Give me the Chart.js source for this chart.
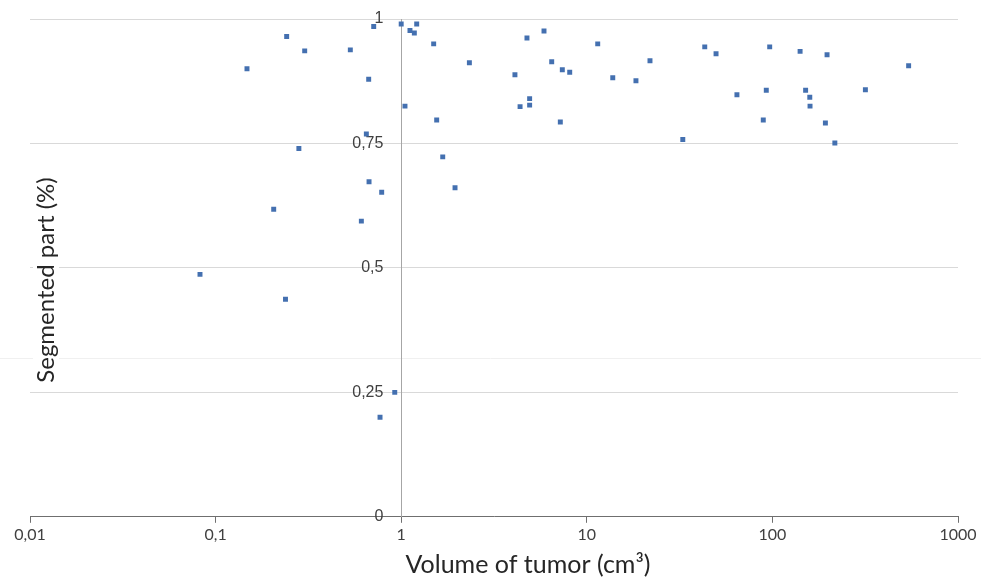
<!DOCTYPE html>
<html>
<head>
<meta charset="utf-8">
<script src="https://cdn.jsdelivr.net/npm/chart.js@4"></script>
<style>
  html, body { margin: 0; padding: 0; background: #fff; }
  #wrap { width: 981px; height: 578px; }
</style>
</head>
<body>
<div id="wrap"><canvas id="tumorChart"></canvas></div>
<script>
// Volume of tumor (cm3) vs segmented part
const volumes = [
  0.0824, 0.1476, 0.2415, 0.302, 0.281, 0.2056, 0.238, 0.532,
  0.711, 0.668, 0.649, 0.671, 0.785, 0.610, 0.923, 0.769,
  1.0, 1.115, 1.177, 1.212, 1.496, 1.048, 1.553, 1.674,
  1.95, 2.33, 4.10, 4.37, 4.92, 4.92, 4.76, 5.88,
  6.47, 7.38, 8.09, 7.20, 11.45, 13.8, 18.4, 21.9, 32.9,
  43.2, 49.7, 64.4, 92.7, 89.3, 96.7, 141, 151,
  159, 159.5, 197, 193, 217, 317, 542
];
const segmented = [
  0.487, 0.900, 0.965, 0.936, 0.740, 0.618, 0.437, 0.938,
  0.985, 0.879, 0.769, 0.673, 0.652, 0.594, 0.250, 0.200,
  0.990, 0.977, 0.972, 0.990, 0.950, 0.825, 0.797, 0.723,
  0.661, 0.912, 0.888, 0.824, 0.840, 0.827, 0.962, 0.976,
  0.914, 0.898, 0.893, 0.793, 0.950, 0.882, 0.876, 0.916, 0.758,
  0.944, 0.930, 0.848, 0.857, 0.797, 0.944, 0.935, 0.857,
  0.843, 0.825, 0.928, 0.791, 0.751, 0.858, 0.906
];
const xTicks = [0.01, 0.1, 1, 10, 100, 1000];
const xTickLabels = ['0,01', '0,1', '1', '10', '100', '1000'];
const yTickLabels = ['0', '0,25', '0,5', '0,75', '1'];

const points = volumes.map((v, i) => ({ x: v, y: segmented[i] }));

// axis titles drawn by hand so they sit where the original has them
const titlesPlugin = {
  id: 'titles',
  beforeDraw(chart) {
    const c = chart.ctx;
    c.save();
    c.strokeStyle = '#f0f0f0';
    c.lineWidth = 1;
    c.beginPath();
    c.moveTo(0, 358.5);
    c.lineTo(chart.width, 358.5);
    c.stroke();
    c.restore();
  },
  afterDraw(chart) {
    const c = chart.ctx;
    c.save();
    c.fillStyle = '#262626';
    c.textAlign = 'center';
    c.textBaseline = 'middle';
    c.font = '25px Lato, "Open Sans", sans-serif';
    c.fillText('Volume of tumor (cm³)', 528, 565);
    c.font = '24px Lato, "Open Sans", sans-serif';
    c.translate(46, 280);
    c.rotate(-Math.PI / 2);
    const w = c.measureText('Segmented part (%)').width;
    c.fillStyle = '#fff';
    c.fillRect(-w / 2 - 4, -13, w + 8, 26);
    c.fillStyle = '#262626';
    c.fillText('Segmented part (%)', 0, 0);
    c.restore();
  }
};

const ctx = document.getElementById('tumorChart').getContext('2d');
new Chart(ctx, {
  type: 'scatter',
  data: {
    datasets: [{
      data: points,
      pointStyle: 'rect',
      radius: 3.5,
      backgroundColor: '#4470b0',
      borderColor: '#4470b0',
      borderWidth: 0
    }]
  },
  options: {
    responsive: true,
    maintainAspectRatio: false,
    animation: false,
    layout: { padding: { left: 30, right: 23, top: 19, bottom: 32 } },
    plugins: { legend: { display: false }, tooltip: { enabled: false } },
    scales: {
      x: {
        type: 'logarithmic',
        min: 0.01,
        max: 1000,
        afterBuildTicks: scale => { scale.ticks = xTicks.map(v => ({ value: v })); },
        // let the layout padding alone decide the plot edges
        afterFit: scale => { scale.paddingLeft = 0; scale.paddingRight = 0; },
        ticks: {
          autoSkip: false,
          maxRotation: 0,
          padding: 2,
          color: '#404040',
          font: { family: 'Lato, "Open Sans", sans-serif', size: 16 },
          callback: (val) => {
            const i = xTicks.findIndex(t => Math.abs(Math.log10(t) - Math.log10(val)) < 1e-6);
            return i >= 0 ? xTickLabels[i] : '';
          }
        },
        grid: { drawOnChartArea: false, drawTicks: true, tickLength: 6, color: '#6f6f6f' },
        border: { display: true, color: '#6f6f6f', width: 1 }
      },
      y: {
        position: { x: 1 },
        min: 0,
        max: 1,
        ticks: {
          stepSize: 0.25,
          color: '#404040',
          font: { family: '"Liberation Sans", Arial, sans-serif', size: 16 },
          // labels sit right-aligned on the axis line, trailing spaces push them left
          callback: (val) => yTickLabels[Math.round(val * 4)] + '\u2007\u2007'
        },
        grid: { color: '#d9d9d9', tickLength: 6, drawTicks: true },
        border: { display: true, color: '#a6a6a6', width: 1 }
      }
    }
  },
  plugins: [titlesPlugin]
});
</script>
</body>
</html>
